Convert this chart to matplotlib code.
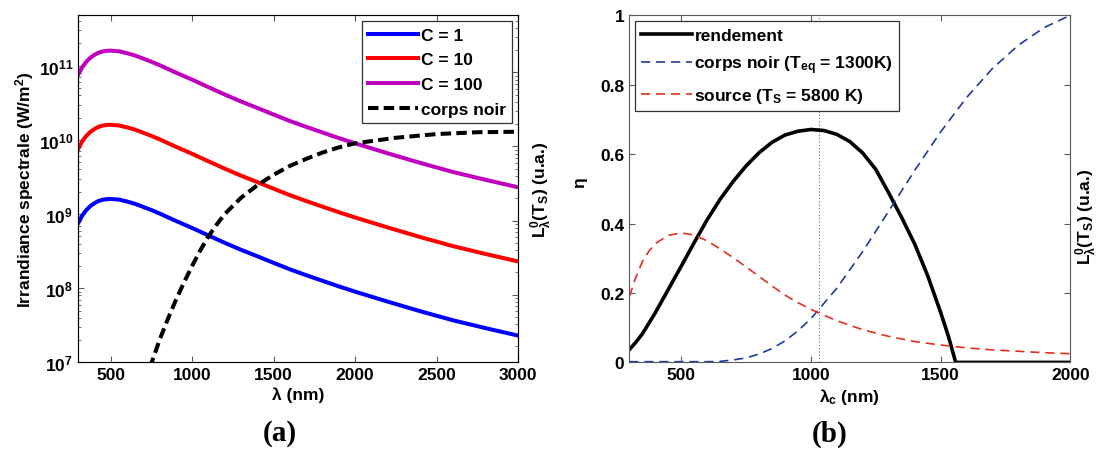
import numpy as np
import matplotlib
matplotlib.use("Agg")
import matplotlib.pyplot as plt
from matplotlib.ticker import FuncFormatter, LogLocator, NullFormatter

plt.rcParams['font.family'] = ['Liberation Sans', 'DejaVu Sans']
plt.rcParams['font.weight'] = 'bold'
plt.rcParams['axes.labelweight'] = 'bold'
plt.rcParams['mathtext.fontset'] = 'custom'
plt.rcParams['mathtext.rm'] = 'Liberation Sans:bold'
plt.rcParams['mathtext.bf'] = 'Liberation Sans:bold'
plt.rcParams['mathtext.it'] = 'Liberation Sans:bold'

# (a) irradiance spectrale (W/m2)
lam_a = [300, 325, 350, 375, 400, 425, 450, 475, 500, 550, 600, 650, 700, 750, 800, 900,
         1000, 1100, 1200, 1300, 1400, 1500, 1600, 1700, 1800, 1900, 2000, 2200, 2400,
         2600, 2800, 3000]
irr_c1 = [7.5e8, 9.5e8, 1.13e9, 1.28e9, 1.40e9, 1.50e9, 1.56e9, 1.59e9, 1.60e9, 1.57e9,
          1.48e9, 1.375e9, 1.25e9, 1.135e9, 1.02e9, 8.1e8, 6.5e8, 5.15e8, 4.1e8, 3.3e8,
          2.7e8, 2.2e8, 1.8e8, 1.5e8, 1.26e8, 1.06e8, 9.0e7, 6.6e7, 4.9e7, 3.7e7, 2.9e7, 2.3e7]
irr_c10 = [7.5e9, 9.5e9, 1.13e10, 1.28e10, 1.40e10, 1.50e10, 1.56e10, 1.59e10, 1.60e10, 1.57e10,
           1.48e10, 1.375e10, 1.25e10, 1.135e10, 1.02e10, 8.1e9, 6.5e9, 5.15e9, 4.1e9, 3.3e9,
           2.7e9, 2.2e9, 1.8e9, 1.5e9, 1.26e9, 1.06e9, 9.0e8, 6.6e8, 4.9e8, 3.7e8, 2.9e8, 2.3e8]
irr_c100 = [7.5e10, 9.5e10, 1.13e11, 1.28e11, 1.40e11, 1.50e11, 1.56e11, 1.59e11, 1.60e11, 1.57e11,
            1.48e11, 1.375e11, 1.25e11, 1.135e11, 1.02e11, 8.1e10, 6.5e10, 5.15e10, 4.1e10, 3.3e10,
            2.7e10, 2.2e10, 1.8e10, 1.5e10, 1.26e10, 1.06e10, 9.0e9, 6.6e9, 4.9e9, 3.7e9, 2.9e9, 2.3e9]
lam_cn = [740, 760, 800, 850, 900, 950, 1000, 1050, 1100, 1150, 1200, 1250, 1300, 1400,
          1500, 1600, 1700, 1800, 1900, 2000, 2250, 2500, 2750, 3000]
cn_a = [8.5e6, 1.12e7, 2.0e7, 3.8e7, 6.9e7, 1.2e8, 2.0e8, 3.24e8, 5.0e8, 7.2e8, 1.0e9, 1.29e9,
        1.66e9, 2.45e9, 3.39e9, 4.47e9, 5.56e9, 6.76e9, 7.94e9, 9.0e9, 1.07e10, 1.2e10,
        1.27e10, 1.29e10]

# (b) rendement et spectres normalises
lam_r = [300, 325, 350, 400, 450, 500, 550, 600, 650, 700, 750, 800, 850, 900, 950, 1000,
         1050, 1100, 1150, 1200, 1250, 1300, 1350, 1400, 1450, 1500, 1530, 1558, 1600, 2000]
eta = [0.037, 0.058, 0.082, 0.143, 0.210, 0.277, 0.345, 0.411, 0.470, 0.521, 0.566, 0.604,
       0.634, 0.655, 0.666, 0.671, 0.668, 0.657, 0.636, 0.603, 0.556, 0.488, 0.417, 0.341,
       0.250, 0.144, 0.075, 0.0, 0.0, 0.0]
lam_bn = [300, 400, 500, 600, 650, 700, 750, 800, 850, 900, 950, 1000, 1100, 1200,
          1300, 1400, 1500, 1600, 1700, 1800, 1900, 2000]
cn_b = [0.002, 0.002, 0.002, 0.002, 0.003, 0.007, 0.013, 0.024, 0.040, 0.062, 0.091, 0.126,
        0.214, 0.320, 0.436, 0.553, 0.664, 0.763, 0.847, 0.914, 0.965, 1.0]
lam_s = [300, 325, 350, 375, 400, 450, 500, 550, 600, 650, 700, 750, 800, 850, 900, 950,
         1000, 1050, 1100, 1200, 1300, 1400, 1500, 1600, 1700, 1800, 1900, 2000]
src = [0.190, 0.245, 0.290, 0.320, 0.342, 0.366, 0.373, 0.367, 0.350, 0.327, 0.302, 0.275,
       0.248, 0.220, 0.194, 0.172, 0.153, 0.136, 0.120, 0.094, 0.075, 0.060, 0.050, 0.042,
       0.036, 0.032, 0.028, 0.025]
lam_opt = 1030

fs = 12.5
fig = plt.figure(figsize=(11.07, 4.52), dpi=100)

# ---- (a)
ax = fig.add_axes([0.0705, 0.196, 0.3975, 0.768])
ax.plot(lam_a, irr_c1, color='#0000ff', lw=2.9, label='C = 1')
ax.plot(lam_a, irr_c10, color='#ff0000', lw=2.9, label='C = 10')
ax.plot(lam_a, irr_c100, color='#bf00bf', lw=2.9, label='C = 100')
ax.plot(lam_cn, cn_a, color='black', lw=2.9, dashes=(2.6, 1.3), label='corps noir')
ax.set_yscale('log')
ax.set_xlim(300, 3000)
ax.set_ylim(1e7, 4.8e11)
ax.set_xticks([500, 1000, 1500, 2000, 2500, 3000])
ax.yaxis.set_major_locator(LogLocator(base=10, numticks=10))
ax.yaxis.set_major_formatter(FuncFormatter(lambda v, p: r'$\mathbf{10^{%d}}$' % round(np.log10(v))))
ax.yaxis.set_minor_formatter(NullFormatter())
ax.tick_params(which='both', direction='in', top=True, labelsize=fs, color='0.35')
ax.tick_params(which='major', length=4)
ax.tick_params(which='minor', length=2.5)
for s in ax.spines.values():
    s.set_color('0.35')
ax.set_xlabel('λ (nm)', fontsize=fs, labelpad=3)
ax.set_ylabel('Irrandiance spectrale (W/m$^\\mathbf{2}$)', fontsize=fs, labelpad=2)
leg = ax.legend(loc='upper right', fontsize=fs, handlelength=2.9, handletextpad=0.15,
                borderpad=0.35, labelspacing=0.55, fancybox=False, edgecolor='0.2',
                borderaxespad=0.35, framealpha=1)
leg.get_frame().set_linewidth(0.9)

ax2 = ax.twinx()
ax2.set_yscale('log')
ax2.set_ylim(10**0.085, 10**4.77)
ax2.yaxis.set_major_formatter(NullFormatter())
ax2.yaxis.set_minor_formatter(NullFormatter())
ax2.tick_params(which='both', direction='in', color='0.35')
ax2.tick_params(which='major', length=4)
ax2.tick_params(which='minor', length=2.5)
ax2.set_ylabel('L$^\\mathbf{0}_\\mathbf{λ}$(T$_\\mathbf{S}$) (u.a.)', fontsize=fs, labelpad=4)

# ---- (b)
bx = fig.add_axes([0.5685, 0.196, 0.3984, 0.768])
bx.axvline(lam_opt, color='0.4', lw=0.8, ls=(0, (1, 2)))
bx.plot(lam_r, eta, color='black', lw=2.6, label='rendement')
bx.plot(lam_bn, cn_b, color='#1f3a9c', lw=1.2, dashes=(5.5, 3.5), label='corps noir (T$_\\mathbf{eq}$ = 1300K)')
bx.plot(lam_s, src, color='#e2301c', lw=1.2, dashes=(5.5, 3.5), label='source (T$_\\mathbf{S}$ = 5800 K)')
bx.set_xlim(300, 2000)
bx.set_ylim(0, 1)
bx.set_xticks([500, 1000, 1500, 2000])
bx.set_yticks([0, 0.2, 0.4, 0.6, 0.8, 1])
bx.yaxis.set_major_formatter(FuncFormatter(lambda v, p: '%g' % v))
bx.tick_params(direction='in', top=True, right=True, labelsize=fs, length=4, color='0.35')
for s in bx.spines.values():
    s.set_color('0.35')
bx.set_xlabel('λ$_\\mathbf{c}$ (nm)', fontsize=fs, labelpad=3)
bx.set_ylabel('η', fontsize=fs)
bx.yaxis.set_label_coords(-0.095, 0.52)
leg2 = bx.legend(loc='upper left', fontsize=fs, handlelength=2.9, handletextpad=0.15,
                 borderpad=0.35, labelspacing=0.6, fancybox=False, edgecolor='0.2',
                 borderaxespad=0.35, framealpha=1)
leg2.get_frame().set_linewidth(0.9)
fig.text(1.0 - 21/1107, 0.52, 'L$^\\mathbf{0}_\\mathbf{λ}$(T$_\\mathbf{S}$) (u.a.)', fontsize=fs,
         rotation=90, ha='center', va='center', fontweight='bold')

fig.text(280/1107, 1 - 434/452, '(a)', fontsize=21, family='Liberation Serif',
         fontweight='bold', ha='center', va='center')
fig.text(830/1107, 1 - 434/452, '(b)', fontsize=21, family='Liberation Serif',
         fontweight='bold', ha='center', va='center')

fig.savefig('out.png', dpi=100)
